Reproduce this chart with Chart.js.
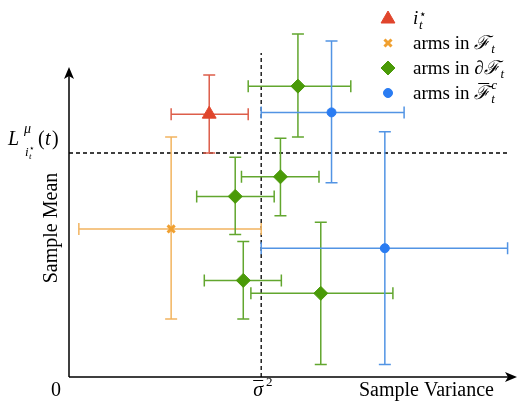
<!DOCTYPE html>
<html><head><meta charset="utf-8">
<script src="https://cdn.jsdelivr.net/npm/chart.js@4"></script>
<style>html,body{margin:0;padding:0;background:#fff}#wrap{width:519px;height:401px;position:relative}</style>
</head><body><div id="wrap"><canvas id="c"></canvas></div>
<script>
// ---- data (abstract units: x = sample variance, y = sample mean) ----
const bestX   = [3.13], bestY   = [7.51];
const bestXLo = [2.28], bestXHi = [4.00], bestYLo = [6.40], bestYHi = [8.63];

const feasX   = [2.28], feasY   = [4.23];
const feasXLo = [0.22], feasXHi = [4.29], feasYLo = [1.66], feasYHi = [6.86];

const bndX   = [5.11, 4.72, 3.71, 3.89, 5.62];
const bndY   = [8.31, 5.72, 5.16, 2.76, 2.39];
const bndXLo = [4.00, 3.85, 2.85, 3.02, 4.06];
const bndXHi = [6.29, 5.58, 4.58, 4.74, 7.23];
const bndYLo = [6.86, 4.61, 4.07, 1.66, 0.36];
const bndYHi = [9.80, 6.82, 6.28, 3.87, 4.42];

const infX   = [5.86, 7.05];
const infY   = [7.56, 3.68];
const infXLo = [4.29, 4.29];
const infXHi = [7.48, 9.79];
const infYLo = [5.55, 0.36];
const infYHi = [9.60, 7.01];

const sigmaBar = 4.29;      // variance threshold
const lowerBound = 6.40;    // L^mu_{i*}(t)
const xAxisMax = 10, yAxisTop = 8.86, hLineEnd = 9.80, vLineTop = 9.26;

function pts(xs, ys, xl, xh, yl, yh){
  return xs.map((x,i)=>({x:x, y:ys[i], xLo:xl[i], xHi:xh[i], yLo:yl[i], yHi:yh[i]}));
}

const datasets = [
  {label:'best', data:pts(bestX,bestY,bestXLo,bestXHi,bestYLo,bestYHi), pointStyle:'triangle', pointRadius:8,
   backgroundColor:'#e0452c', borderColor:'#e0452c', errColor:'#dd5e4a'},
  {label:'F', data:pts(feasX,feasY,feasXLo,feasXHi,feasYLo,feasYHi), pointStyle:'crossRot', pointRadius:5, pointBorderWidth:3,
   backgroundColor:'#f0a030', borderColor:'#f0a030', errColor:'#f2b460'},
  {label:'dF', data:pts(bndX,bndY,bndXLo,bndXHi,bndYLo,bndYHi), pointStyle:'rectRot', pointRadius:7,
   backgroundColor:'#4a9a08', borderColor:'#4a9a08', errColor:'#62a62e'},
  {label:'Fc', data:pts(infX,infY,infXLo,infXHi,infYLo,infYHi), pointStyle:'circle', pointRadius:4.5,
   backgroundColor:'#2a7cf2', borderColor:'#2a7cf2', errColor:'#5294e4'}
];

const SERIF = '"Liberation Serif", "DejaVu Serif", serif';

const errPlugin = {
  id:'errbars',
  beforeDatasetsDraw(chart){
    const ctx = chart.ctx, xs = chart.scales.x, ys = chart.scales.y;
    ctx.save();
    // axes with arrows
    ctx.strokeStyle = '#000'; ctx.lineWidth = 1.5; ctx.setLineDash([]);
    const x0 = xs.getPixelForValue(0), y0 = ys.getPixelForValue(0);
    const xe = xs.getPixelForValue(xAxisMax), ye = ys.getPixelForValue(yAxisTop);
    ctx.beginPath(); ctx.moveTo(x0, y0); ctx.lineTo(xe-6, y0); ctx.moveTo(x0, y0); ctx.lineTo(x0, ye+6); ctx.stroke();
    ctx.fillStyle = '#000';
    ctx.beginPath(); ctx.moveTo(xe, y0); ctx.lineTo(xe-12, y0-5); ctx.lineTo(xe-9, y0); ctx.lineTo(xe-12, y0+5); ctx.closePath(); ctx.fill();
    ctx.beginPath(); ctx.moveTo(x0, ye); ctx.lineTo(x0-5, ye+12); ctx.lineTo(x0, ye+9); ctx.lineTo(x0+5, ye+12); ctx.closePath(); ctx.fill();
    // dashed reference lines
    ctx.lineWidth = 1.3; ctx.setLineDash([4,3]);
    const hy = ys.getPixelForValue(lowerBound);
    ctx.beginPath(); ctx.moveTo(x0, hy); ctx.lineTo(xs.getPixelForValue(hLineEnd), hy); ctx.stroke();
    const vx = xs.getPixelForValue(sigmaBar);
    ctx.beginPath(); ctx.moveTo(vx, y0); ctx.lineTo(vx, ys.getPixelForValue(vLineTop)); ctx.stroke();
    ctx.setLineDash([]);
    // error bars
    const cap = 6;
    chart.data.datasets.forEach(ds=>{
      ctx.strokeStyle = ds.errColor; ctx.lineWidth = 1.5;
      ds.data.forEach(p=>{
        const px = xs.getPixelForValue(p.x), py = ys.getPixelForValue(p.y);
        const xl = xs.getPixelForValue(p.xLo), xh = xs.getPixelForValue(p.xHi);
        const yl = ys.getPixelForValue(p.yLo), yh = ys.getPixelForValue(p.yHi);
        ctx.beginPath();
        ctx.moveTo(xl, py); ctx.lineTo(xh, py);
        ctx.moveTo(xl, py-cap); ctx.lineTo(xl, py+cap);
        ctx.moveTo(xh, py-cap); ctx.lineTo(xh, py+cap);
        ctx.moveTo(px, yl); ctx.lineTo(px, yh);
        ctx.moveTo(px-cap, yl); ctx.lineTo(px+cap, yl);
        ctx.moveTo(px-cap, yh); ctx.lineTo(px+cap, yh);
        ctx.stroke();
      });
    });
    ctx.restore();
  },
  afterDraw(chart){
    const ctx = chart.ctx, xs = chart.scales.x, ys = chart.scales.y;
    ctx.save();
    ctx.fillStyle = '#000'; ctx.textBaseline = 'alphabetic';
    const f = (style, size) => style + ' ' + size + 'px ' + SERIF;
    // axis titles
    ctx.font = f('normal', 20);
    ctx.textAlign = 'left';
    ctx.fillText('Sample Variance', 359, 396);
    ctx.save(); ctx.translate(57, 228); ctx.rotate(-Math.PI/2);
    ctx.textAlign = 'center'; ctx.fillText('Sample Mean', 0, 0); ctx.restore();
    ctx.textAlign = 'center';
    ctx.fillText('0', 56, 396);
    // sigma bar squared
    const vx = xs.getPixelForValue(sigmaBar);
    ctx.font = f('italic', 20); ctx.fillText('σ', vx-3, 396);
    ctx.lineWidth = 1; ctx.strokeStyle = '#000';
    ctx.beginPath(); ctx.moveTo(vx-8, 380.5); ctx.lineTo(vx+2, 380.5); ctx.stroke();
    ctx.font = f('normal', 13); ctx.fillText('2', vx+8, 386);
    // L^mu_{i_t^*}(t)
    ctx.textAlign = 'left';
    ctx.font = f('italic', 20); ctx.fillText('L', 8, 145);
    ctx.font = f('italic', 14); ctx.fillText('μ', 24, 133);
    ctx.font = f('italic', 13); ctx.fillText('i', 25, 156);
    ctx.font = f('italic', 9);  ctx.fillText('t', 29, 159);
    ctx.font = f('normal', 9);  ctx.fillText('⋆', 29, 151);
    ctx.font = f('normal', 20); ctx.fillText('(', 38, 145);
    ctx.font = f('italic', 20); ctx.fillText('t', 45, 145);
    ctx.font = f('normal', 20); ctx.fillText(')', 52, 145);
    // legend
    const lx = 388, tx = 413, rows = [19, 43, 68, 93];
    datasets.forEach((ds,i)=>{
      ctx.fillStyle = ds.backgroundColor; ctx.strokeStyle = ds.borderColor; ctx.lineWidth = ds.pointBorderWidth||1;
      Chart.helpers.drawPoint(ctx, {pointStyle: ds.pointStyle, radius: ds.pointRadius, borderWidth: ds.pointBorderWidth||1}, lx, rows[i]);
    });
    ctx.fillStyle = '#000';
    // i_t^*
    ctx.font = f('italic', 19); ctx.fillText('i', tx, rows[0]+5);
    ctx.font = f('normal', 12); ctx.fillText('⋆', tx+6, rows[0]-1);
    ctx.font = f('italic', 13); ctx.fillText('t', tx+6, rows[0]+10);
    const armRow = (y, pre, bar, sup) => {
      ctx.font = f('normal', 19); ctx.fillText('arms in ', tx, y+6);
      let x = tx + ctx.measureText('arms in ').width;
      if (pre) { ctx.font = f('italic', 19); ctx.fillText(pre, x, y+6); x += ctx.measureText(pre).width; }
      ctx.font = f('italic', 19); ctx.fillText('ℱ', x, y+6);
      const w = ctx.measureText('ℱ').width;
      if (bar) { ctx.lineWidth = 1; ctx.strokeStyle = '#000'; ctx.beginPath(); ctx.moveTo(x+4, y-9.5); ctx.lineTo(x+w-1, y-9.5); ctx.stroke(); }
      x += w + 1;
      ctx.font = f('italic', 13); ctx.fillText('t', x, y+10);
      if (sup) ctx.fillText(sup, x, y-4);
    };
    armRow(rows[1], '', false, '');
    armRow(rows[2], '∂', false, '');
    armRow(rows[3], '', true, 'c');
    ctx.restore();
  }
};

new Chart(document.getElementById('c'), {
  type:'scatter',
  data:{datasets: datasets},
  options:{
    responsive:true, maintainAspectRatio:false, animation:false,
    layout:{autoPadding:false, padding:{left:69, right:2, top:27, bottom:24}},
    scales:{
      x:{type:'linear', min:0, max:10, display:false},
      y:{type:'linear', min:0, max:10, display:false}
    },
    plugins:{legend:{display:false}, tooltip:{enabled:false}},
    elements:{point:{borderWidth:1}}
  },
  plugins:[errPlugin]
});
</script></body></html>
